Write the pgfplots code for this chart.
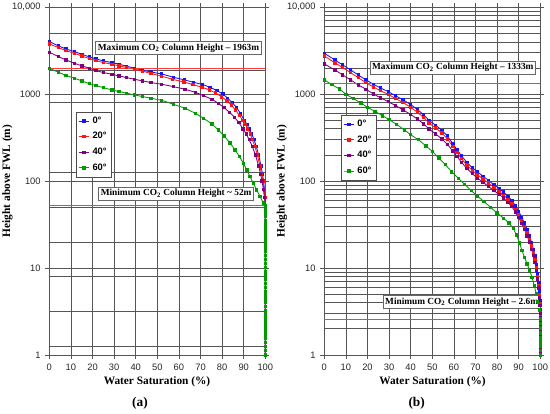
\documentclass[border=0pt]{standalone}
\usepackage{fontspec}
\setmainfont{Liberation Serif}
\setsansfont{Liberation Sans}
\usepackage{pgfplots}
\pgfplotsset{compat=1.18}
\definecolor{cblue}{RGB}{20,20,255}
\definecolor{cred}{RGB}{255,20,20}
\definecolor{cpurple}{RGB}{128,0,128}
\definecolor{cgreen}{RGB}{0,155,0}
\definecolor{gridc}{RGB}{85,85,85}
\definecolor{refred}{RGB}{255,60,60}
\pgfplotsset{
  legend image code/.code={\draw[mark repeat=2,mark phase=2,#1] plot coordinates {(0cm,0cm) (0.14cm,0cm) (0.28cm,0cm)};},
  every axis plot/.append style={line width=0.65pt, mark=square*, mark size=0.9pt},
}
\tikzset{boxnode/.style={draw=black!60, fill=white, line width=0.5pt, inner sep=1.6pt,
    font=\bfseries\fontsize{7}{8}\selectfont}}
\begin{document}
\begin{tikzpicture}
\path[use as bounding box] (0,0) rectangle (412.5pt,310.5pt);
% ---------------- (a) ----------------
\begin{axis}[scale only axis, width=162pt, height=260.8pt,
    ymode=log, xmin=0, xmax=100, ymin=1, ymax=10000,
    xtick={0,10,20,30,40,50,60,70,80,90,100},
    xticklabels={0,10,20,30,40,50,60,70,80,90,100},
    ytick={1,10,100,1000,10000}, yticklabels={1,10,100,1000,{10,000}},
    tick label style={font=\sffamily\fontsize{7}{8}\selectfont, text=black!85},
    tick align=outside, major tick length=3pt, minor tick length=0pt,
    xmajorgrids, ymajorgrids,
    grid style={gridc, line width=0.55pt},
    axis line style={gridc, line width=0.6pt},
    tick style={gridc, line width=0.55pt},
    clip=false,
    legend style={draw=black!70, line width=0.4pt, fill=white,
      font=\sffamily\bfseries\fontsize{7}{8}\selectfont,
      row sep=1.3pt, inner sep=1.5pt, anchor=north west, cells={anchor=west},
      at={(0.124,0.699)}},
  at={(37pt,44.25pt)}, anchor=south west,
  extra y ticks={5000,1900,800,125,50,20,8,3.2,1.25},
  extra y tick labels={},
  extra y tick style={grid=major, major tick length=0pt}]
\addplot[cblue, mark options={fill=cblue}] coordinates {
(0,4030)(4.2,3590)(7.7,3317)(11.6,3090)(15,2884)(18.5,2685)(21.6,2547)(25,2415)(28.9,2312)(32.3,2213)(35.8,2100)(39.4,1990)(43.2,1888)(47.1,1800)(52,1710)(57.4,1567)(62.5,1460)(66.7,1373)(71,1290)(74.4,1203)(77.5,1100)(80.3,1007)(82.5,900)(84.7,800)(86.7,700)(88.5,600)(90.3,500)(91.5,450)(92.5,400)(93.7,350)(94.8,300)(95.8,250)(96.9,200)(98,150)(98.7,120)(99.2,100)(99.6,80)(99.85,65)(100,52)
(100,47)(100,43)(100,39)(100,35)(100,32)(100,29)(100,26)(100,23.5)(100,21)(100,19)(100,17)(100,15.5)(100,14)(100,12.5)(100,11.3)(100,10.2)(100,9.2)(100,8.3)(100,7.5)(100,6.7)(100,6)(100,5.4)(100,4.9)(100,4.4)(100,4)(100,3.6)(100,3.2)(100,2.9)(100,2.6)(100,2.35)(100,2.1)(100,1.9)(100,1.7)(100,1.55)(100,1.4)(100,1.25)(100,1.12)(100,1)};
\addlegendentry{0°}
\addplot[cred, mark options={fill=cred}] coordinates {
(0,3786)(4.2,3436)(7.7,3170)(11.6,2958)(15,2754)(18.5,2568)(21.6,2437)(25,2312)(28.9,2213)(32.3,2117)(35.8,2026)(39.4,1938)(43.2,1840)(47.1,1730)(52,1610)(57.1,1480)(62.4,1380)(66.4,1290)(70.6,1205)(74.1,1120)(77,1030)(79.8,935)(82.2,840)(84.2,750)(86.2,660)(88,570)(89.6,500)(90.8,450)(91.8,400)(93,350)(94,300)(95.2,250)(96.3,200)(97.5,150)(98.3,120)(98.9,100)(99.4,80)(99.75,65)(100,52)
(100,47)(100,43)(100,39)(100,35)(100,32)(100,29)(100,26)(100,23.5)(100,21)(100,19)(100,17)(100,15.5)(100,14)(100,12.5)(100,11.3)(100,10.2)(100,9.2)(100,8.3)(100,7.5)(100,6.7)(100,6)(100,5.4)(100,4.9)(100,4.4)(100,4)(100,3.6)(100,3.2)(100,2.9)(100,2.6)(100,2.35)(100,2.1)(100,1.9)(100,1.7)(100,1.55)(100,1.4)(100,1.25)(100,1.12)(100,1)};
\addlegendentry{20°}
\addplot[cpurple, mark options={fill=cpurple}] coordinates {
(0,3040)(4.2,2704)(7.7,2477)(11.6,2270)(15,2117)(18.5,1990)(21.6,1870)(25,1774)(28.9,1698)(32.3,1622)(35.8,1552)(39.4,1486)(43.2,1422)(47.1,1360)(52,1303)(57.4,1222)(62.8,1141)(67.5,1054)(71.3,963)(75.2,877)(78.2,788)(80.9,702)(83.5,615)(85.8,540)(87.8,470)(89.6,400)(91.2,350)(92.5,300)(94,250)(95.4,200)(96.9,150)(97.8,120)(98.5,100)(99.1,80)(99.6,65)(100,52)
(100,47)(100,43)(100,39)(100,35)(100,32)(100,29)(100,26)(100,23.5)(100,21)(100,19)(100,17)(100,15.5)(100,14)(100,12.5)(100,11.3)(100,10.2)(100,9.2)(100,8.3)(100,7.5)(100,6.7)(100,6)(100,5.4)(100,4.9)(100,4.4)(100,4)(100,3.6)(100,3.2)(100,2.9)(100,2.6)(100,2.35)(100,2.1)(100,1.9)(100,1.7)(100,1.55)(100,1.4)(100,1.25)(100,1.12)(100,1)};
\addlegendentry{40°}
\addplot[cgreen, mark options={fill=cgreen}] coordinates {
(0,1990)(4.2,1790)(7.7,1637)(11.6,1528)(15,1422)(18.5,1324)(21.6,1256)(25,1191)(28.9,1120)(32.3,1072)(35.8,1026)(39.4,981)(43.2,938)(47.1,899)(52,850)(57.4,767)(62.8,690)(67.5,605)(71.3,530)(75.2,456)(78.2,389)(80.9,332)(83.7,274)(86,229)(88,192)(89.8,161)(91.4,135)(92.9,113)(94.4,95)(96,79)(97.5,67)(99.1,56)(100,52)
(100,47)(100,43)(100,39)(100,35)(100,32)(100,29)(100,26)(100,23.5)(100,21)(100,19)(100,17)(100,15.5)(100,14)(100,12.5)(100,11.3)(100,10.2)(100,9.2)(100,8.3)(100,7.5)(100,6.7)(100,6)(100,5.4)(100,4.9)(100,4.4)(100,4)(100,3.6)(100,3.2)(100,2.9)(100,2.6)(100,2.35)(100,2.1)(100,1.9)(100,1.7)(100,1.55)(100,1.4)(100,1.25)(100,1.12)(100,1)};
\addlegendentry{60°}
\addplot[refred, line width=0.6pt, no markers, forget plot] coordinates {(0,1963)(100,1963)};
\addplot[refred, line width=0.6pt, no markers, forget plot] coordinates {(0,52)(100,52)};
\node[boxnode] at (axis cs:59.8,3400) {Maximum CO\textsubscript{2} Column Height – 1963m};
\node[boxnode] at (axis cs:58.7,72) {Minimum CO\textsubscript{2} Column Height \textasciitilde{} 52m};
\end{axis}
% ---------------- (b) ----------------
\begin{axis}[scale only axis, width=162pt, height=260.8pt,
    ymode=log, xmin=0, xmax=100, ymin=1, ymax=10000,
    xtick={0,10,20,30,40,50,60,70,80,90,100},
    xticklabels={0,10,20,30,40,50,60,70,80,90,100},
    ytick={1,10,100,1000,10000}, yticklabels={1,10,100,1000,{10,000}},
    tick label style={font=\sffamily\fontsize{7}{8}\selectfont, text=black!85},
    tick align=outside, major tick length=3pt, minor tick length=0pt,
    xmajorgrids, ymajorgrids, yminorgrids,
    minor ytick={2,3,4,5,6,7,8,9,20,30,40,50,60,70,80,90,200,300,400,500,600,700,800,900,2000,3000,4000,5000,6000,7000,8000,9000},
    grid style={gridc, line width=0.55pt},
    minor grid style={gridc, line width=0.5pt},
    axis line style={gridc, line width=0.6pt},
    tick style={gridc, line width=0.55pt},
    clip=false,
    legend style={draw=black!70, line width=0.4pt, fill=white,
      font=\sffamily\bfseries\fontsize{7}{8}\selectfont,
      row sep=1.3pt, inner sep=1.5pt, anchor=north west, cells={anchor=west},
      at={(0.077,0.690)}},
  at={(243.2pt,44.25pt)}, anchor=south west]
\addplot[cblue, mark options={fill=cblue}] coordinates {
(0,2960)(4.9,2477)(8.5,2172)(12.2,1903)(15.7,1667)(19.3,1460)(22.7,1303)(26,1180)(29.6,1070)(33,960)(36.5,860)(40,760)(43,670)(46,580)(48.5,500)(51.5,440)(54.5,385)(57,330)(59.5,270)(61.5,230)(63.5,195)(66,165)(68.5,143)(71,127)(73.5,114)(76,102)(78.5,91)(81,82)(83,75)(85,67)(86.8,60)(88.5,52)(90,45)(91.4,38.5)(92.7,33)(93.9,28)(95,23.5)(96,19.5)(96.8,16.5)(97.5,13.8)(98.2,11)(98.8,8.7)(99.3,6.8)(99.7,5.3)(99.9,4.2)(100,3.3)
(100,3.0)(100,2.7)(100,2.4)(100,2.15)(100,1.95)(100,1.75)(100,1.58)(100,1.42)(100,1.28)(100,1.15)(100,1.05)(100,1)};
\addlegendentry{0°}
\addplot[cred, mark options={fill=cred}] coordinates {
(0,2754)(4.9,2300)(8.5,2020)(12.2,1770)(15.7,1550)(19.3,1358)(22.7,1212)(26,1097)(29.6,995)(33,893)(36.5,800)(40,707)(43,623)(46,540)(48.5,465)(51.5,410)(54.5,358)(57,307)(59.5,251)(61.5,214)(63.5,181)(66,153)(68.5,133)(71,118)(73.5,106)(76,95)(78.5,85)(81,76)(83,69)(85,62)(86.8,55)(88.5,47.5)(90,41)(91.4,35)(92.7,30)(93.9,25.5)(95,21.5)(96,18)(96.8,15)(97.5,12.5)(98.2,10)(98.8,8)(99.3,6.3)(99.7,4.9)(99.9,3.9)(100,3.1)
(100,2.8)(100,2.5)(100,2.25)(100,2.0)(100,1.8)(100,1.62)(100,1.45)(100,1.3)(100,1.16)(100,1.05)(100,1)};
\addlegendentry{20°}
\addplot[cpurple, mark options={fill=cpurple}] coordinates {
(0,2230)(4.9,1903)(8.5,1667)(12.2,1460)(15.7,1279)(19.3,1141)(22.7,1007)(26,910)(29.6,820)(33,740)(36.5,660)(40,585)(43,520)(46,455)(48.5,398)(51.5,350)(54.5,305)(57,265)(59.5,222)(61.5,192)(63.5,165)(66,140)(68.5,122)(71,108)(73.5,97)(76,87)(78.5,78)(81,70)(83,64)(85,57)(86.8,51)(88.5,44)(90,38)(91.4,32.5)(92.7,28)(93.9,23.5)(95,20)(96,16.5)(96.8,14)(97.5,11.7)(98.2,9.4)(98.8,7.5)(99.3,5.9)(99.7,4.6)(99.9,3.7)(100,3.0)
(100,2.7)(100,2.4)(100,2.15)(100,1.95)(100,1.75)(100,1.58)(100,1.42)(100,1.28)(100,1.15)(100,1.05)(100,1)};
\addlegendentry{40°}
\addplot[cgreen, mark options={fill=cgreen}] coordinates {
(0,1460)(3.5,1290)(7,1150)(10,1000)(13.5,890)(17,790)(20,705)(23.5,635)(27,565)(30,510)(33.5,450)(37,390)(40,342)(43.5,300)(47,255)(50,220)(53,185)(56,155)(59,128)(62,108)(65,92)(68,78)(71,67)(74,58)(77,50)(80,43)(83,37.5)(85.5,33)(87.5,28.5)(89,24)(90.4,19.5)(91.5,16)(92.7,13.3)(93.9,11.2)(95.1,9.4)(96.2,7.8)(97.2,6.3)(98.1,5.1)(98.8,4.1)(99.5,3.3)(100,2.6)
(100,2.3)(100,2.05)(100,1.8)(100,1.6)(100,1.42)(100,1.27)(100,1.13)(100,1)};
\addlegendentry{60°}
\addplot[refred, line width=0.6pt, no markers, forget plot] coordinates {(0,1333)(100,1333)};
\addplot[refred, line width=0.6pt, no markers, forget plot] coordinates {(0,2.6)(100,2.6)};
\node[boxnode] at (axis cs:59.5,2030) {Maximum CO\textsubscript{2} Column Height – 1333m};
\node[boxnode] at (axis cs:63.6,4.05) {Minimum CO\textsubscript{2} Column Height – 2.6m};
\end{axis}
% ---------------- labels ----------------
\node[rotate=90, font=\bfseries\fontsize{8.5}{10}\selectfont] at (5.5pt,174.75pt) {Height above FWL (m)};
\node[rotate=90, font=\bfseries\fontsize{8.5}{10}\selectfont] at (211.5pt,174.75pt) {Height above FWL (m)};
\node[font=\bfseries\fontsize{8.5}{10}\selectfont] at (117.75pt,24.2pt) {Water Saturation (\%)};
\node[font=\bfseries\fontsize{8.5}{10}\selectfont] at (324.4pt,24.2pt) {Water Saturation (\%)};
\node[font=\bfseries\fontsize{10}{12}\selectfont] at (105pt,8.25pt) {(a)};
\node[font=\bfseries\fontsize{10}{12}\selectfont] at (312.5pt,8.25pt) {(b)};
\end{tikzpicture}
\end{document}
